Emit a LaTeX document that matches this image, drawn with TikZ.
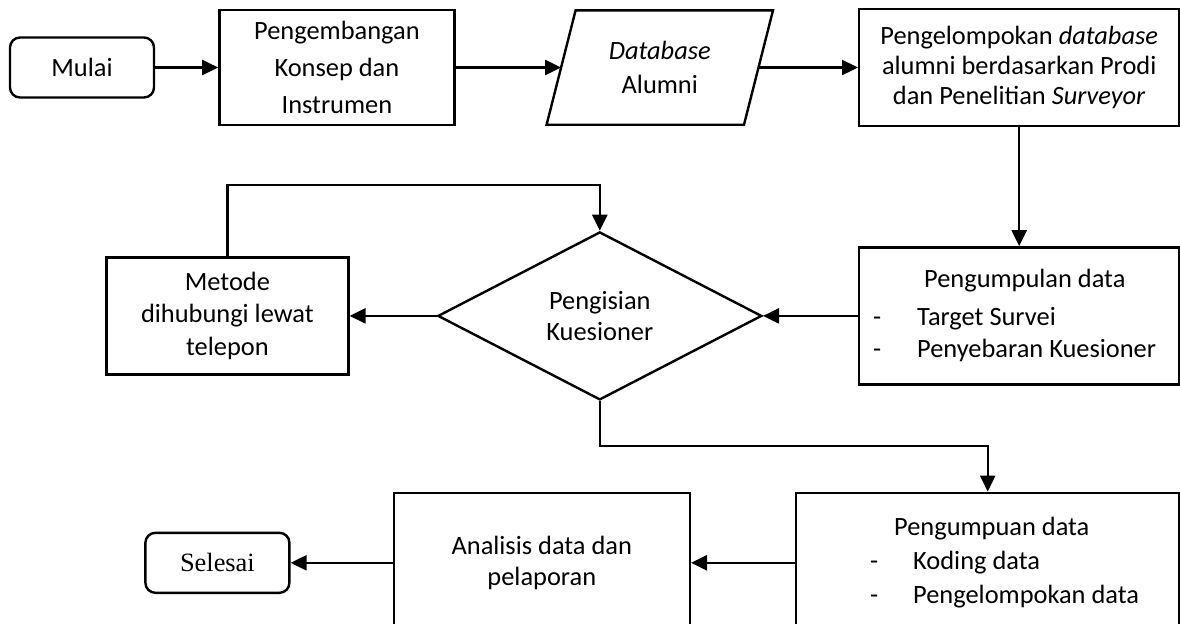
\documentclass[tikz,border=0pt]{standalone}
\usepackage{fontspec}
\setmainfont{Carlito}
\newfontfamily\timesfont{Liberation Serif}
\usetikzlibrary{positioning,shapes.geometric,arrows.meta}
\newcommand{\butir}[2][22pt]{\mbox{\makebox[#1][l]{-}#2}}

\begin{document}
\begin{tikzpicture}[auto, line width=1.2pt, font=\fontsize{13.2}{16}\selectfont,
                    box node/.style={rectangle,draw,align=flush center},
                    end node/.style={rectangle,draw,rounded corners=5pt,minimum width=72pt,minimum height=30pt},
                    ask node/.style={diamond,draw,aspect=2,inner sep=1pt,minimum width=162pt,minimum height=84pt,align=flush center},
                    panah/.style={-{Triangle[length=8pt,width=7.5pt]}}]

\useasboundingbox (0,0) rectangle (590pt,-311.5pt);

  \node[end node] (mulai) at (41pt,-33.75pt) {Mulai};
  \node[box node,minimum width=117.5pt,minimum height=57.5pt,font=\fontsize{13.2}{18.5}\selectfont] (konsep) [right=31.5pt of mulai] {Pengembangan\\Konsep dan\\Instrumen};
\node[minimum width=97.5pt,minimum height=56pt,inner sep=0pt,align=flush center,font=\fontsize{13.2}{17}\selectfont] (db) [right=52.75pt of konsep] {\textit{Database}\\Alumni};
\node[box node,minimum width=160pt,minimum height=58.5pt,font=\fontsize{13.2}{15}\selectfont] (kelompok) [right=49.75pt of db] {Pengelompokan \textit{database}\\alumni berdasarkan Prodi\\dan Penelitian \textit{Surveyor}};
\node[box node,minimum width=160pt,minimum height=68.5pt,text width=146pt,align=flush left,font=\fontsize{13.2}{16}\selectfont] (kumpul) [below=59.5pt of kelompok] {\mbox{\hspace*{25.5pt}Pengumpulan data}\\[3pt]\butir{Target Survei}\\\butir{Penyebaran Kuesioner}};
\node[ask node,font=\fontsize{13.2}{15.5}\selectfont] (isi) [left=47.5pt of kumpul] {Pengisian\\Kuesioner};
\node[box node,minimum width=121pt,minimum height=58.5pt,font=\fontsize{13.2}{16.25}\selectfont] (metode) [left=43.5pt of isi] {Metode\\dihubungi lewat\\telepon};
\node[box node,minimum width=191.5pt,minimum height=70pt,text width=117.5pt,align=flush left,font=\fontsize{13.2}{17}\selectfont] (kode) [below left=53pt and 0pt of kumpul.south east] {\mbox{\hspace*{12pt}Pengumpuan data}\\\butir[21.5pt]{Koding data}\\\butir[21.5pt]{Pengelompokan data}};
\node[box node,minimum width=148pt,minimum height=70pt,font=\fontsize{13.2}{15.5}\selectfont] (analisis) [left=52pt of kode] {Analisis data dan\\pelaporan};
\node[end node,font=\timesfont\fontsize{13.2}{16}\selectfont] (selesai) [left=51pt of analisis] {Selesai};

% bentuk jajaran genjang untuk database
\draw ([xshift=7.25pt]db.north west) -- ([xshift=7.25pt]db.north east) -- ([xshift=-7.25pt]db.south east) -- ([xshift=-7.25pt]db.south west) -- cycle;

\path[panah]
    (mulai) edge (konsep)
    (konsep) edge (db)
    (db) edge (kelompok)
    (kelompok) edge (kumpul)
    (kumpul) edge (isi)
    (isi) edge (metode)
    (kode) edge (analisis)
    (analisis) edge (selesai);

\draw[panah] (metode.north) -- ++(0,35.5pt) -| (isi.north);
\draw[panah] (isi.south) -- ++(0,-22.5pt) -| (kode.north);

\end{tikzpicture}
\end{document}
